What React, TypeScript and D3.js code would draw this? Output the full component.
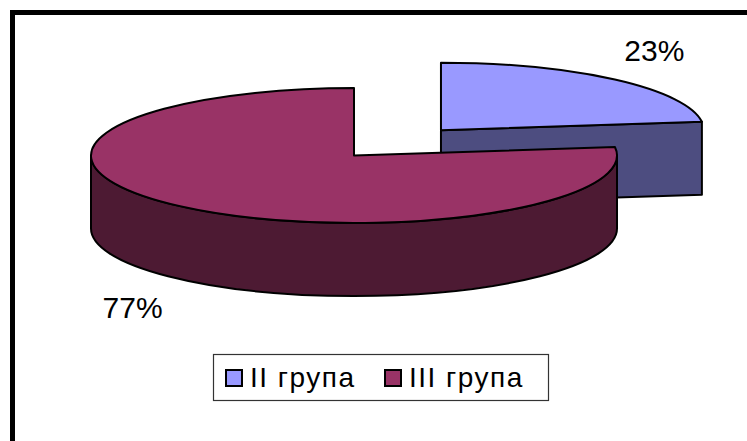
import React from "react";
import * as d3 from "d3";

// Chart data
const categories = ["II група", "III група"];
const values = [23, 77];
const valueLabels = ["23%", "77%"];
const topColors = ["#9999FF", "#993366"];
const sideColors = ["#4D4D80", "#4D1A33"];
const explodeBy = [0.5, 0];

const W = 747;
const H = 441;

// Projected 3D pie geometry
const cx = 354;
const cy = 155.5;
const rx = 263;
const ry = 67.5;
const depth = 73;

type Pt = [number, number];

function pt(theta: number, ox: number, oy: number, dz = 0): Pt {
  return [cx + ox + rx * Math.sin(theta), cy + oy - ry * Math.cos(theta) + dz];
}

function topPath(a0: number, a1: number, ox: number, oy: number): string {
  const s = pt(a0, ox, oy);
  const e = pt(a1, ox, oy);
  const large = a1 - a0 > Math.PI ? 1 : 0;
  return `M${cx + ox},${cy + oy}L${s[0]},${s[1]}A${rx},${ry} 0 ${large} 1 ${e[0]},${e[1]}Z`;
}

function wallPath(t0: number, t1: number, ox: number, oy: number): string {
  const s = pt(t0, ox, oy);
  const e = pt(t1, ox, oy);
  const sb = pt(t0, ox, oy, depth);
  const eb = pt(t1, ox, oy, depth);
  const large = t1 - t0 > Math.PI ? 1 : 0;
  return `M${s[0]},${s[1]}A${rx},${ry} 0 ${large} 1 ${e[0]},${e[1]}L${eb[0]},${eb[1]}A${rx},${ry} 0 ${large} 0 ${sb[0]},${sb[1]}Z`;
}

function facePath(theta: number, ox: number, oy: number): string {
  const p = pt(theta, ox, oy);
  const pb = pt(theta, ox, oy, depth);
  return `M${cx + ox},${cy + oy}L${p[0]},${p[1]}L${pb[0]},${pb[1]}L${cx + ox},${cy + oy + depth}Z`;
}

export default function App() {
  const pie = d3
    .pie<number>()
    .sort(null)
    .startAngle(0)
    .endAngle(2 * Math.PI)
    .value((d) => d);
  const arcs = pie(values);

  const slices = arcs.map((a, i) => {
    const mid = (a.startAngle + a.endAngle) / 2;
    const ox = explodeBy[i] * rx * Math.sin(mid);
    const oy = -explodeBy[i] * ry * Math.cos(mid);
    return { a, i, mid, ox, oy };
  });

  // back-to-front order
  const order = [...slices].sort(
    (p, q) => (cy + p.oy - ry * Math.cos(p.mid)) - (cy + q.oy - ry * Math.cos(q.mid))
  );

  const stroke = "#000";
  const sw = 2;
  const font = "'Liberation Sans', Arial, sans-serif";

  return (
    <div style={{ width: W, height: H }}>
      <style>{`body{margin:0}`}</style>
      <svg width={W} height={H} style={{ display: "block" }}>
        <rect x={0} y={0} width={W} height={H} fill="#fff" />
        <rect x={12.5} y={12.5} width={W + 40} height={H + 40} fill="none" stroke="#000" strokeWidth={5} />

        {order.map(({ a, i, ox, oy }) => {
          const a0 = a.startAngle;
          const a1 = a.endAngle;
          const parts: React.ReactNode[] = [];
          // outer wall: front half only
          const t0 = Math.max(a0, Math.PI / 2);
          const t1 = Math.min(a1, (3 * Math.PI) / 2);
          if (t1 > t0) {
            parts.push(
              <path key="wall" d={wallPath(t0, t1, ox, oy)} fill={sideColors[i]} stroke={stroke} strokeWidth={sw} strokeLinejoin="round" />
            );
          }
          // radial cut faces turned toward the viewer
          if (Math.sin(a1) > 1e-6) {
            parts.push(
              <path key="endFace" d={facePath(a1, ox, oy)} fill={sideColors[i]} stroke={stroke} strokeWidth={sw} strokeLinejoin="round" />
            );
          }
          if (Math.sin(a0) < -1e-6) {
            parts.push(
              <path key="startFace" d={facePath(a0, ox, oy)} fill={sideColors[i]} stroke={stroke} strokeWidth={sw} strokeLinejoin="round" />
            );
          }
          parts.push(
            <path key="top" d={topPath(a0, a1, ox, oy)} fill={topColors[i]} stroke={stroke} strokeWidth={sw} strokeLinejoin="round" />
          );
          return <g key={i}>{parts}</g>;
        })}

        {slices.map(({ i, mid, ox, oy }) => {
          const lx = cx + ox + 1.25 * rx * Math.sin(mid) - 4;
          const ly = cy + oy - 1.57 * ry * Math.cos(mid) + (Math.cos(mid) < 0 ? depth : 0);
          return (
            <text
              key={`lbl${i}`}
              x={lx}
              y={ly}
              textAnchor="middle"
              dominantBaseline="central"
              fontFamily={font}
              fontSize={30}
              fill="#000"
            >
              {valueLabels[i]}
            </text>
          );
        })}

        <g>
          <rect x={213.5} y={354.5} width={335} height={46} fill="#fff" stroke="#333" strokeWidth={1.2} />
          {categories.map((c, i) => {
            const x0 = i === 0 ? 226 : 385;
            return (
              <g key={c}>
                <rect x={x0} y={370} width={16} height={16} fill={topColors[i]} stroke="#000" strokeWidth={2} />
                <text
                  x={x0 + 24}
                  y={387}
                  fontFamily={font}
                  fontSize={28}
                  letterSpacing={1.5}
                  fill="#000"
                >
                  {c}
                </text>
              </g>
            );
          })}
        </g>
      </svg>
    </div>
  );
}
